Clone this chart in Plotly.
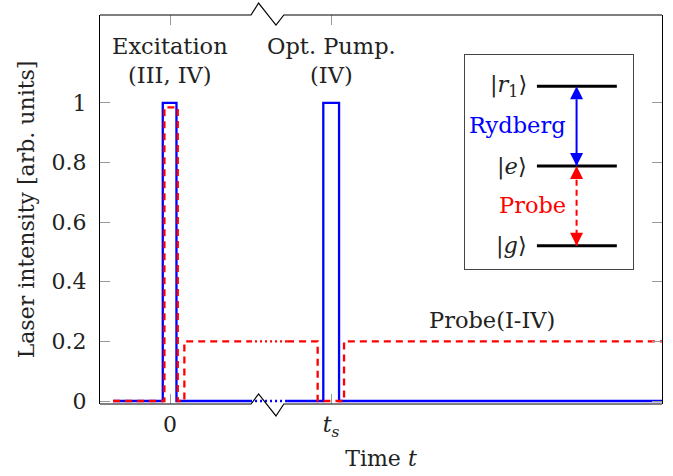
import plotly.graph_objects as go

# ---------------- data (time in arbitrary units, t_s = 10) ----------------
TS = 10.0
x_range = [-4.35, 30.56]
y_range = [-0.01, 1.295]
y_ticks = [0, 0.2, 0.4, 0.6, 0.8, 1]
x_ticks = [0, TS]
x_ticklabels = ["0", "<i>t<sub>s</sub></i>"]

# blue: excitation + optical pumping pulses
blue_t = [-3.54, -0.45, -0.45, 0.40, 0.40, 4.97]
blue_v = [0, 0, 1, 1, 0, 0]
blue_gap_t = [4.97, 7.27]
blue_gap_v = [0, 0]
blue2_t = [7.27, 9.52, 9.52, 10.50, 10.50, 30.56]
blue2_v = [0, 0, 1, 1, 0, 0]

# red: probe
red_t = [-3.54, -0.35, -0.35, 0.48, 0.48, 0.89, 0.89, 4.97]
red_v = [0, 0, 0.985, 0.985, 0, 0, 0.2, 0.2]
red_gap_t = [4.97, 7.27]
red_gap_v = [0.2, 0.2]
red2_t = [7.27, 9.17, 9.17, 10.81, 10.81, 30.56]
red2_v = [0.2, 0.2, 0, 0, 0.2, 0.2]

# axis break position (time units)
BREAK_T = 6.07
BREAK_HW = 1.04

# inset level scheme
level_names = ["|<i>g</i>⟩", "|<i>e</i>⟩", "|<i>r</i><sub>1</sub>⟩"]
level_values = [0, 1, 2]
level_x = [0.4286, 0.905]
arrow_x = 0.665
rydberg_span = [1, 2]
probe_span = [0, 1]

FONT = "DejaVu Serif"
BLUE = "#0000ff"
RED = "#ff0000"
ANN_SIZE = 22.5

fig = go.Figure()

def add(t, v, color, dash, width=2.3, xa="x", ya="y"):
    fig.add_trace(go.Scatter(x=t, y=v, mode="lines", xaxis=xa, yaxis=ya,
                             line=dict(color=color, width=width, dash=dash),
                             hoverinfo="skip", showlegend=False))

add(blue_t, blue_v, BLUE, "solid")
add(blue_gap_t, blue_gap_v, BLUE, "2px,3px")
add(blue2_t, blue2_v, BLUE, "solid")
add(red_t, red_v, RED, "7px,5px")
add(red_gap_t, red_gap_v, RED, "2px,3px")
add(red2_t, red2_v, RED, "7px,5px")

# inset levels
for lv in level_values:
    add(level_x, [lv, lv], "black", "solid", width=3, xa="x2", ya="y2")

# transition arrows (line + arrow-head markers)
for span, color, dash in ((rydberg_span, BLUE, "solid"), (probe_span, RED, "6px,4px")):
    fig.add_trace(go.Scatter(
        x=[arrow_x, arrow_x], y=span, mode="lines+markers", xaxis="x2", yaxis="y2",
        line=dict(color=color, width=2, dash=dash),
        marker=dict(symbol=["arrow-down", "arrow-up"], size=13, color=color,
                    line=dict(width=0)),
        hoverinfo="skip", showlegend=False))

# frame with axis breaks
b0, b1, b2, b3 = BREAK_T - BREAK_HW, BREAK_T - 0.57, BREAK_T + 0.51, BREAK_T + 1.0
bot = (f"M {x_range[0]},0 L {b0},0 L {b1},0.0257 L {b2},-0.0308 L {b3},0 L {x_range[1]},0")
top = (f"M {x_range[0]},1 L {b0},1 L {b1},1.0308 L {b2},0.9743 L {b3},1 L {x_range[1]},1")
for p in (bot, top):
    fig.add_shape(type="path", path=p, xref="x", yref="paper",
                  line=dict(color="black", width=1.2), layer="above")

af = dict(size=ANN_SIZE)
ann = []
ann.append(dict(x=0, y=1.144, xref="x", yref="y", text="Excitation<br>(III, IV)",
                showarrow=False, yanchor="middle", xanchor="center", font=af))
ann.append(dict(x=TS, y=1.144, xref="x", yref="y", text="Opt. Pump.<br>(IV)",
                showarrow=False, yanchor="middle", xanchor="center", font=af))
ann.append(dict(x=20, y=0.272, xref="x", yref="y", text="Probe(I-IV)",
                showarrow=False, yanchor="middle", xanchor="center", font=af))
for name, lv in zip(level_names, level_values):
    ann.append(dict(x=0.38, y=lv, xref="x2", yref="y2", text=name, showarrow=False,
                    xanchor="right", yanchor="middle", font=af))
ann.append(dict(x=0.613, y=1.51, xref="x2", yref="y2", text="Rydberg", showarrow=False,
                xanchor="right", yanchor="middle", font=dict(color=BLUE, size=ANN_SIZE)))
ann.append(dict(x=0.613, y=0.51, xref="x2", yref="y2", text="Probe", showarrow=False,
                xanchor="right", yanchor="middle", font=dict(color=RED, size=ANN_SIZE)))

fig.update_layout(
    width=673, height=476,
    margin=dict(l=100, r=11, t=15, b=72, autoexpand=False),
    paper_bgcolor="white", plot_bgcolor="white",
    font=dict(family=FONT, size=22, color="#222"),
    showlegend=False,
    annotations=ann,
    xaxis=dict(range=x_range, showgrid=False, zeroline=False, showline=False, automargin=False,
               ticks="inside", ticklen=10, tickcolor="#999", tickwidth=1.2, mirror="ticks",
               tickvals=x_ticks, ticktext=x_ticklabels, ticklabelstandoff=5,
               title=dict(text="Time <i>t</i>", standoff=10, font=dict(size=22))),
    yaxis=dict(range=y_range, showgrid=False, zeroline=False, showline=True, automargin=False,
               linecolor="black", linewidth=1.2, mirror="ticks",
               ticks="inside", ticklen=10, tickcolor="#999", tickwidth=1.2,
               tickvals=y_ticks, ticklabelstandoff=8,
               title=dict(text="Laser intensity [arb. units]", standoff=10, font=dict(size=22))),
    xaxis2=dict(domain=[0.6495, 0.948], anchor="y2", range=[0, 1], showgrid=False,
                zeroline=False, showline=True, linecolor="#444", linewidth=1.3, mirror=True,
                showticklabels=False, ticks=""),
    yaxis2=dict(domain=[0.347, 0.897], anchor="x2", range=[-0.29, 2.39], showgrid=False,
                zeroline=False, showline=True, linecolor="#444", linewidth=1.3, mirror=True,
                showticklabels=False, ticks=""),
)

fig.write_html("out.html")
